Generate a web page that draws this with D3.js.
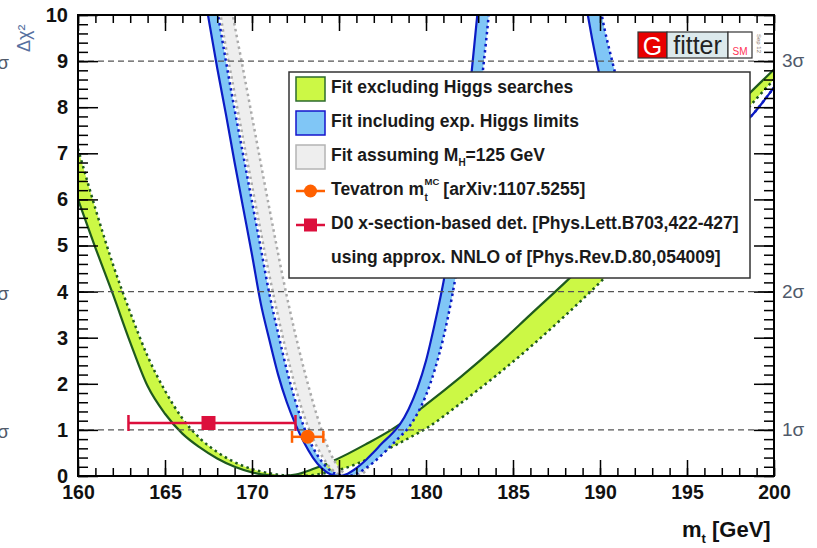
<!DOCTYPE html>
<html>
<head>
<meta charset="utf-8">
<script src="https://cdn.jsdelivr.net/npm/d3@7"></script>
<style>
  body { margin: 0; background: #fff; }
  text { font-family: "Liberation Sans", Arial, sans-serif; }
</style>
</head>
<body>
<div id="chart"></div>
<script>
// profile curves: [mt (GeV), delta chi2]
const greenSolid = [[160, 6.0], [161, 4.95], [162, 3.95], [163, 2.9], [164, 1.95], [165, 1.35], [166, 0.92],
  [167, 0.62], [168, 0.38], [169, 0.2], [170, 0.08], [171, 0.015], [171.7, 0], [172.5, 0.03], [173.5, 0.15],
  [174.5, 0.3], [175.5, 0.48], [176.5, 0.68], [178, 1.0], [180, 1.55], [182, 2.15], [184, 2.8], [186, 3.5],
  [188, 4.2], [190, 4.93], [192, 5.7], [194, 6.5], [196, 7.3], [198, 8.08], [200, 8.82]];
const greenDotted = [[160, 7.1], [161, 5.8], [162, 4.6], [163, 3.55], [164, 2.6], [165, 1.85], [166, 1.25],
  [167, 0.82], [168, 0.52], [169, 0.3], [170, 0.15], [171, 0.06], [172, 0.01], [172.8, 0], [173.5, 0.02],
  [174, 0.05], [175, 0.13], [176, 0.26], [177, 0.43], [178, 0.62], [179, 0.82], [180, 1.03], [182, 1.58],
  [184, 2.17], [186, 2.8], [188, 3.48], [190, 4.2], [192, 4.98], [194, 5.8], [196, 6.75], [198, 7.75], [200, 8.6]];
const blueSolid = [[166.8, 11.5], [167.47, 10.0], [168, 8.85], [168.5, 7.85], [169, 6.8], [169.5, 5.8],
  [170, 4.8], [170.5, 3.75], [171, 2.95], [171.5, 2.2], [172, 1.6], [172.5, 1.12], [173, 0.72], [173.5, 0.4],
  [174, 0.17], [174.5, 0.04], [175, 0], [175.5, 0.05], [176, 0.17], [176.5, 0.33], [177, 0.52], [177.5, 0.72],
  [178, 0.9], [178.5, 1.12], [179, 1.45], [179.5, 1.9], [180, 2.5], [180.5, 3.3], [181, 4.2], [181.5, 5.3],
  [182, 6.6], [182.5, 8.3], [183, 10.2], [183.5, 12.0], [185, 14], [187, 14], [188.5, 12], [189.3, 10],
  [189.8, 9], [190.5, 7.9], [191.5, 7.0], [193, 6.55], [195, 6.7], [196.5, 7.1], [198.75, 7.83], [200, 8.43]];
const blueDotted = [[167.4, 11.5], [168.05, 10.0], [168.5, 9.0], [169, 7.95], [169.5, 6.95], [170, 5.95],
  [170.5, 4.95], [171, 3.95], [171.5, 3.1], [172, 2.3], [172.5, 1.62], [173, 1.05], [173.5, 0.62], [174, 0.32],
  [174.5, 0.12], [175, 0.02], [175.5, 0], [176, 0.05], [176.5, 0.16], [177, 0.3], [177.5, 0.47], [178, 0.66],
  [178.5, 0.85], [179, 1.05], [179.5, 1.35], [180, 1.75], [180.5, 2.3], [181, 3.0], [181.5, 3.9], [182, 5.0],
  [182.5, 6.3], [183, 7.9], [183.5, 9.6], [184, 11.5], [186, 14], [188, 14], [189.3, 12], [190.1, 10],
  [190.7, 9], [191.5, 7.9], [192.5, 7.0], [194, 6.6], [196.5, 7.1], [198.75, 7.83], [200, 8.43]];
const grayLeft = [[167.7, 11.5], [168.2, 10], [169, 8.3], [170, 6.3], [171, 4.35], [172, 2.65], [173, 1.3],
  [174, 0.45], [174.5, 0.18], [175, 0.03], [175.3, 0], [175.8, 0.04], [176.5, 0.2], [177, 0.42], [178, 0.78],
  [179, 1.25], [180, 2.1], [181, 3.6], [182, 5.8], [183, 9.0], [183.4, 11.5]];
const grayRight = [[168.3, 11.5], [168.9, 10], [169.4, 9], [170, 7.8], [171, 5.8], [172, 3.9], [173, 2.3],
  [174, 1.0], [174.5, 0.5], [175, 0.18], [175.5, 0.02], [175.8, 0], [176.3, 0.04], [177, 0.35], [178, 0.72],
  [179, 1.15], [180, 1.9], [181, 3.3], [182, 5.4], [183, 8.5], [183.6, 11.5]];

// direct measurements: central mt, low, high, drawn at delta chi2
const measNames = ["Tevatron", "D0"];
const measMt = [173.2, 167.5];
const measLo = [172.3, 162.9];
const measHi = [174.1, 172.5];
const measY = [0.85, 1.15];

const xMajor = [160, 165, 170, 175, 180, 185, 190, 195, 200];
const xMinor = d3.range(160, 201, 1);
const yMajor = [0, 1, 2, 3, 4, 5, 6, 7, 8, 9, 10];
const yMinor = d3.range(0, 51).map(d => d / 5);
const sigmaLevels = [1, 4, 9];
const sigmaLabels = ["1σ", "2σ", "3σ"];

const legendLabels = ["Fit excluding Higgs searches", "Fit including exp. Higgs limits"];

const green = "#ccf845", greenLine = "#1e5a1e";
const blue = "#80c6f6", blueLine = "#0b1bc4";
const grey = "#eeeeee", greyLine = "#aaaaaa";
const orange = "#ff6000", crimson = "#dc0f3c";
const font = "Liberation Sans, Arial, sans-serif";

const svg = d3.select("#chart").append("svg")
  .attr("width", 817).attr("height", 548);

const x = d3.scaleLinear().domain([160, 200]).range([78, 774]);
const y = d3.scaleLinear().domain([0, 10]).range([476, 15]);

svg.append("clipPath").attr("id", "plotclip")
  .append("rect").attr("x", 78).attr("y", 15).attr("width", 696).attr("height", 461);

const plot = svg.append("g").attr("clip-path", "url(#plotclip)");

const line = d3.line().x(d => x(d[0])).y(d => y(d[1])).curve(d3.curveMonotoneX);

function bandPath(a, b) {
  const p1 = line(a);
  const p2 = line(b.slice().reverse());
  return p1 + "L" + p2.slice(1) + "Z";
}

// green band
plot.append("path").attr("d", bandPath(greenSolid, greenDotted)).attr("fill", green);
plot.append("path").attr("d", line(greenSolid)).attr("fill", "none")
  .attr("stroke", greenLine).attr("stroke-width", 2.2);
plot.append("path").attr("d", line(greenDotted)).attr("fill", "none")
  .attr("stroke", greenLine).attr("stroke-width", 2.5).attr("stroke-dasharray", "2.5,3.5");

// grey band (MH = 125)
plot.append("path").attr("d", bandPath(grayLeft, grayRight)).attr("fill", grey);
[grayLeft, grayRight].forEach(c => {
  plot.append("path").attr("d", line(c)).attr("fill", "none")
    .attr("stroke", greyLine).attr("stroke-width", 2.5).attr("stroke-dasharray", "2.5,3.5");
});

// blue band
plot.append("path").attr("d", bandPath(blueSolid, blueDotted)).attr("fill", blue);
plot.append("path").attr("d", line(blueSolid)).attr("fill", "none")
  .attr("stroke", blueLine).attr("stroke-width", 2.2);
plot.append("path").attr("d", line(blueDotted)).attr("fill", "none")
  .attr("stroke", blueLine).attr("stroke-width", 2.5).attr("stroke-dasharray", "2.5,3.5");

// 1, 2, 3 sigma lines
plot.selectAll(".sig").data(sigmaLevels).enter().append("line")
  .attr("x1", 78).attr("x2", 774)
  .attr("y1", d => y(d)).attr("y2", d => y(d))
  .attr("stroke", "#555").attr("stroke-width", 1.3).attr("stroke-dasharray", "6,4");

sigmaLevels.forEach((v, i) => {
  svg.append("text").attr("x", 782).attr("y", y(v) + 6)
    .attr("font-size", 19).attr("fill", "#505a6a").text(sigmaLabels[i]);
  svg.append("text").attr("x", 9).attr("y", y(v) + 8).attr("text-anchor", "end")
    .attr("font-size", 19).attr("fill", "#505a6a").text(sigmaLabels[i]);
});

// measurements
const measColors = [orange, crimson];
measNames.forEach((n, i) => {
  const g = svg.append("g").attr("stroke", measColors[i]).attr("fill", measColors[i]);
  const cy = y(measY[i]);
  const cap = i === 0 ? 6 : 8;
  g.append("line").attr("x1", x(measLo[i])).attr("x2", x(measHi[i]))
    .attr("y1", cy).attr("y2", cy).attr("stroke-width", 2.5);
  [measLo[i], measHi[i]].forEach(v => {
    g.append("line").attr("x1", x(v)).attr("x2", x(v))
      .attr("y1", cy - cap).attr("y2", cy + cap).attr("stroke-width", 2.5);
  });
  if (i === 0) {
    g.append("circle").attr("cx", x(measMt[i])).attr("cy", cy).attr("r", 7).attr("stroke", "none");
  } else {
    g.append("rect").attr("x", x(measMt[i]) - 7).attr("y", cy - 7)
      .attr("width", 14).attr("height", 14).attr("stroke", "none");
  }
});

// axes: ticks point inwards
function styleAxis(g) {
  g.select(".domain").remove();
  g.selectAll("line").attr("stroke", "#000").attr("stroke-width", 1.5);
  g.attr("font-family", font).attr("font-weight", "bold");
  g.selectAll("text").attr("fill", "#111");
}
svg.append("g").attr("transform", "translate(78,0)")
  .call(d3.axisLeft(y).tickValues(yMajor).tickSize(-20).tickPadding(10).tickFormat(d3.format("d")))
  .call(styleAxis).attr("font-size", 20);
svg.append("g").attr("transform", "translate(78,0)")
  .call(d3.axisLeft(y).tickValues(yMinor).tickSize(-10).tickFormat(""))
  .call(styleAxis);
svg.append("g").attr("transform", "translate(774,0)")
  .call(d3.axisRight(y).tickValues(yMajor).tickSize(-20).tickFormat(""))
  .call(styleAxis);
svg.append("g").attr("transform", "translate(774,0)")
  .call(d3.axisRight(y).tickValues(yMinor).tickSize(-10).tickFormat(""))
  .call(styleAxis);
svg.append("g").attr("transform", "translate(0,476)")
  .call(d3.axisBottom(x).tickValues(xMajor).tickSize(-16).tickPadding(9).tickFormat(d3.format("d")))
  .call(styleAxis).attr("font-size", 19.5);
svg.append("g").attr("transform", "translate(0,476)")
  .call(d3.axisBottom(x).tickValues(xMinor).tickSize(-8).tickFormat(""))
  .call(styleAxis);
svg.append("g").attr("transform", "translate(0,15)")
  .call(d3.axisTop(x).tickValues(xMajor).tickSize(-16).tickFormat(""))
  .call(styleAxis);
svg.append("g").attr("transform", "translate(0,15)")
  .call(d3.axisTop(x).tickValues(xMinor).tickSize(-8).tickFormat(""))
  .call(styleAxis);

svg.append("rect").attr("x", 78).attr("y", 15).attr("width", 696).attr("height", 461)
  .attr("fill", "none").attr("stroke", "#000").attr("stroke-width", 2);

// axis titles
const xt = svg.append("text").attr("y", 537).attr("font-size", 22).attr("font-weight", "bold").attr("fill", "#111");
xt.append("tspan").attr("x", 682).text("m");
xt.append("tspan").attr("font-size", 13).attr("dy", 6).text("t");
xt.append("tspan").attr("dy", -6).text(" [GeV]");

svg.append("text").attr("transform", "translate(30,52) rotate(-90)")
  .attr("font-size", 18).attr("fill", "#5670a0").text("Δχ²");

// legend
const leg = svg.append("g");
leg.append("rect").attr("x", 289).attr("y", 72).attr("width", 461).attr("height", 206)
  .attr("fill", "#fff").attr("stroke", "#333").attr("stroke-width", 1.5);
const boxFill = [green, blue, grey];
const boxLine = ["#2d6b2d", "#1414cc", "#b4b4b4"];
boxFill.forEach((f, i) => {
  leg.append("rect").attr("x", 296).attr("y", 77 + i * 34).attr("width", 29).attr("height", 24)
    .attr("fill", f).attr("stroke", boxLine[i]).attr("stroke-width", 1.5);
});
function legText(xp, yp, s, size, dy) {
  return leg.append("text").attr("x", xp).attr("y", yp + (dy || 0))
    .attr("font-size", size || 17.5).attr("font-weight", "bold").attr("fill", "#1a1a1a").text(s);
}
legendLabels.forEach((s, i) => legText(331, 93 + i * 34, s));
// "Fit assuming M_H=125 GeV"
let t = legText(331, 161, "Fit assuming M");
let xx = 331 + t.node().getComputedTextLength();
t = legText(xx, 161, "H", 10, 5);
xx += t.node().getComputedTextLength();
legText(xx, 161, "=125 GeV");
// "Tevatron m_t^MC [arXiv:1107.5255]"
t = legText(331, 195, "Tevatron m");
xx = 331 + t.node().getComputedTextLength() + 0.5;
const sub = legText(xx, 195, "t", 10, 6);
const sup = legText(xx, 195, "MC", 9.5, -10);
xx += Math.max(sub.node().getComputedTextLength(), sup.node().getComputedTextLength()) + 4;
legText(xx, 195, "[arXiv:1107.5255]");
legText(331, 229, "D0 x-section-based det. [Phys.Lett.B703,422-427]");
legText(331, 263, "using approx. NNLO of [Phys.Rev.D.80,054009]");

// legend markers
leg.append("line").attr("x1", 296).attr("x2", 325).attr("y1", 191).attr("y2", 191)
  .attr("stroke", orange).attr("stroke-width", 2.5);
leg.append("circle").attr("cx", 310.5).attr("cy", 191).attr("r", 6.5).attr("fill", orange);
leg.append("line").attr("x1", 296).attr("x2", 325).attr("y1", 225).attr("y2", 225)
  .attr("stroke", crimson).attr("stroke-width", 2.5);
leg.append("rect").attr("x", 304).attr("y", 218.5).attr("width", 13).attr("height", 13).attr("fill", crimson);

// Gfitter logo
const logo = svg.append("g");
logo.append("rect").attr("x", 638).attr("y", 32).attr("width", 29).attr("height", 26)
  .attr("fill", "#e80000").attr("stroke", "#333").attr("stroke-width", 1.2);
logo.append("text").attr("x", 652.5).attr("y", 55).attr("text-anchor", "middle")
  .attr("font-size", 25).attr("fill", "#fff").text("G");
logo.append("rect").attr("x", 667).attr("y", 32).attr("width", 61).attr("height", 26)
  .attr("fill", "#dce9ec").attr("stroke", "#333").attr("stroke-width", 1.2);
logo.append("text").attr("x", 697.5).attr("y", 54).attr("text-anchor", "middle")
  .attr("font-size", 25).attr("fill", "#222").text("fitter");
logo.append("rect").attr("x", 728).attr("y", 32).attr("width", 24).attr("height", 26)
  .attr("fill", "#fff").attr("stroke", "#333").attr("stroke-width", 1.2);
logo.append("text").attr("x", 740).attr("y", 55).attr("text-anchor", "middle")
  .attr("font-size", 10).attr("fill", "#ff3355").text("SM");
logo.append("text").attr("transform", "translate(757,34) rotate(90)")
  .attr("font-size", 6).attr("fill", "#8a7a6a").text("Sep 12");
</script>
</body>
</html>
